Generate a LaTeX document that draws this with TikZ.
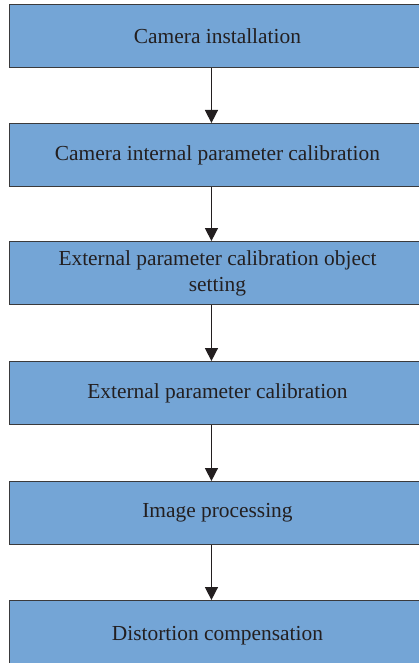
\documentclass[tikz,border=0pt]{standalone}
\usepackage{fontspec}
\setmainfont{Liberation Serif}
\usetikzlibrary{arrows.meta}
\definecolor{boxfill}{HTML}{74A5D6}
\definecolor{boxline}{HTML}{3A3A3C}
\definecolor{ink}{HTML}{231F20}
\tikzset{
  stage/.style={draw=boxline, line width=0.9pt, fill=boxfill, rectangle,
    minimum width=416pt, minimum height=63pt, anchor=north west,
    inner sep=0pt, align=center, text=ink,
    font=\fontsize{21.4}{26}\selectfont},
  flow/.style={draw=ink, line width=1.5pt,
    -{Triangle[length=13pt,width=13pt]}}
}
\begin{document}
\begin{tikzpicture}[x=1pt,y=-1pt]
\useasboundingbox (0,0) rectangle (419,663);
\clip (0,0) rectangle (419,663);
\node[stage] (s1) at (9,4)   {Camera installation};
\node[stage] (s2) at (9,123) {Camera internal parameter calibration};
\node[stage] (s3) at (9,241) {External parameter calibration object\\setting};
\node[stage] (s4) at (9,361) {External parameter calibration};
\node[stage] (s5) at (9,481) {Image processing};
\node[stage, minimum height=70pt] (s6) at (9,600) {\raisebox{5pt}{Distortion compensation}};
\foreach \a/\b in {s1/s2,s2/s3,s3/s4,s4/s5,s5/s6}
  \draw[flow] ([xshift=-6pt]\a.south) -- ([xshift=-6pt]\b.north);
\end{tikzpicture}
\end{document}
